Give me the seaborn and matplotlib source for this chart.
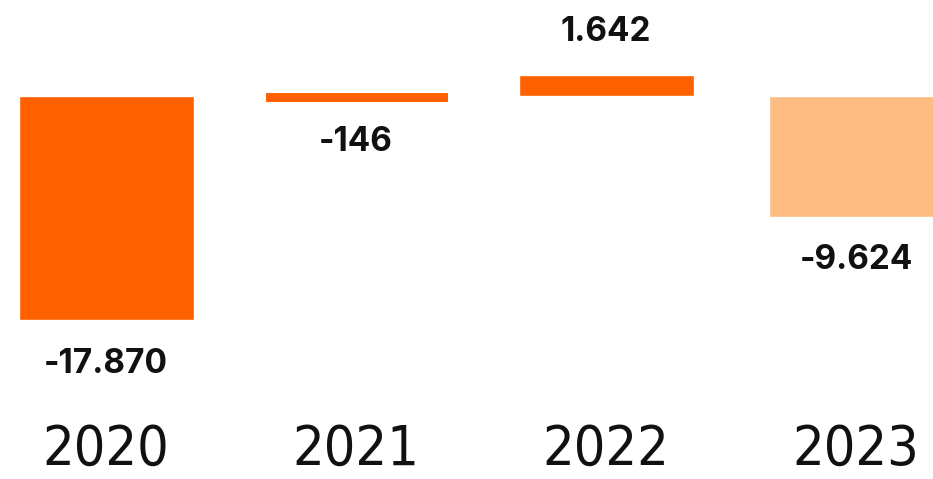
import numpy as np
import pandas as pd
import matplotlib
matplotlib.use("Agg")
import matplotlib.pyplot as plt
import seaborn as sns

# dados
anos = ["2020", "2021", "2022", "2023"]
valores = [-17870, -146, 1642, -9624]
cores = ["#FF6100", "#FF6100", "#FF6100", "#FDBD82"]

df = pd.DataFrame({"ano": anos, "valor": valores})

sns.set_theme(style="white")
plt.rcParams["font.family"] = ["Inter", "DejaVu Sans"]

fig = plt.figure(figsize=(9.33, 4.79), dpi=100)
ax = fig.add_axes([0, 69 / 479, 1, 410 / 479])

sns.barplot(data=df, x="ano", y="valor", hue="ano", palette=cores,
            legend=False, width=0.7, saturation=1, ax=ax)

# a barra de 2021 fica quase invisivel, da uma engrossada com a borda
ax.patches[1].set_edgecolor(cores[1])
ax.patches[1].set_linewidth(5)

# escala: 0 em y=96px, -17870 em y=320px
k = 224 / 17870
ax.set_ylim(-(410 - 96) / k, 96 / k)
ax.set_xlim(-106 / 250, (933 - 106) / 250)

for i, v in enumerate(valores):
    txt = f"{v:,}".replace(",", ".")
    if v < 0:
        ax.annotate(txt, (i, v), xytext=(0, -20), textcoords="offset points",
                    ha="center", va="top", fontsize=24, fontweight="bold",
                    color="#111111")
    else:
        ax.annotate(txt, (i, v), xytext=(0, 20), textcoords="offset points",
                    ha="center", va="bottom", fontsize=24, fontweight="bold",
                    color="#111111")

ax.set_xlabel("")
ax.set_ylabel("")
ax.set_yticks([])
ax.tick_params(axis="x", length=0, pad=9)
for lab in ax.get_xticklabels():
    lab.set_fontfamily(["DejaVu Sans"])
    lab.set_fontstretch("condensed")
    lab.set_fontsize(40)
    lab.set_color("#111111")
sns.despine(left=True, bottom=True)

fig.savefig("out.png", dpi=100, facecolor="white")
